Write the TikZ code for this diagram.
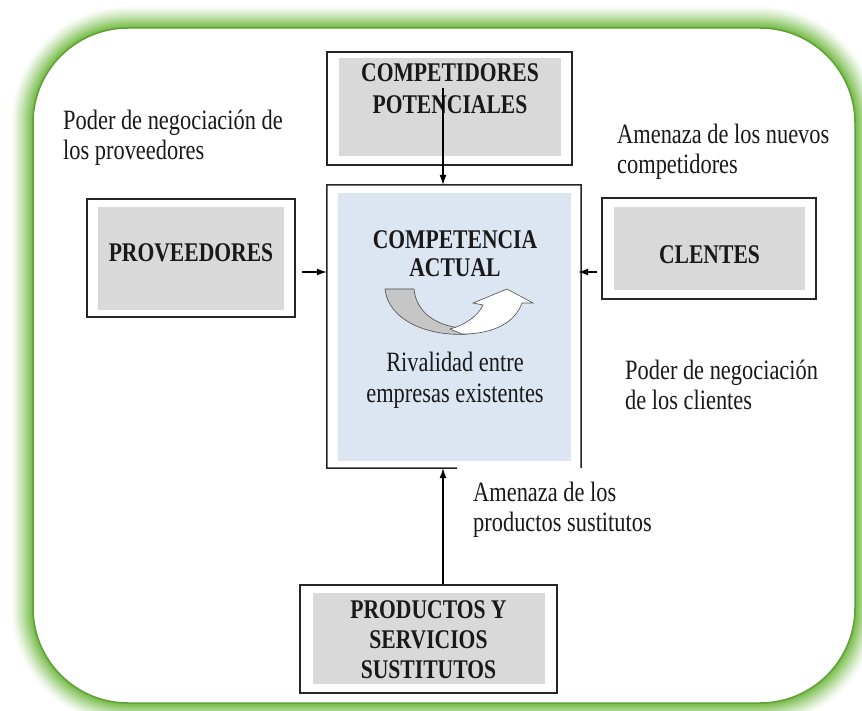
\documentclass[tikz,border=0pt]{standalone}
\usepackage{fontspec}
\setmainfont{Liberation Serif}[FakeStretch=0.8]
\usetikzlibrary{arrows.meta}
\definecolor{gline}{RGB}{95,160,55}
\definecolor{gglow}{RGB}{118,188,72}
\definecolor{boxgray}{RGB}{217,217,217}
\definecolor{cblue}{RGB}{220,230,242}
\begin{document}
\begin{tikzpicture}[x=1pt,y=-1pt,
  frame/.style={draw=black!85,line width=1.5pt,inner sep=0pt,fill=white},
  shadebox/.style={fill=boxgray,inner sep=0pt},
  title/.style={font=\fontsize{27}{29}\selectfont\bfseries,align=center,inner sep=0pt,text=black!90},
  note/.style={font=\fontsize{28}{30}\selectfont,align=left,inner sep=0pt,anchor=north west,text=black!90},
  conn/.style={-{Latex[length=10pt,width=7pt]},line width=1.1pt,black}]
\useasboundingbox (0,0) rectangle (862,711);
% green rounded frame with glow
\foreach \i in {22,21,...,1}{
  \pgfmathsetmacro\p{100*(1-(\i-1)/22)^1.3}
  \pgfmathsetmacro\r{95+\i}
  \fill[gglow!\p!white, rounded corners=\r pt] (33-\i,28-\i) rectangle (855+\i,703+\i);
}
\filldraw[fill=white, draw=gline, line width=1.5pt, rounded corners=95pt] (33,28) rectangle (855,703);

% top box
\node[frame, minimum width=245pt, minimum height=113pt] (potf) at (449.5,108.5) {};
\node[shadebox, minimum width=222pt, minimum height=98pt] (potg) at (450,107) {};
\node[title, font=\fontsize{27}{32}\selectfont\bfseries] (pott) at (450,89) {COMPETIDORES\\POTENCIALES};

% left box
\node[frame, minimum width=208pt, minimum height=118pt] (provf) at (191,258) {};
\node[shadebox, minimum width=186pt, minimum height=103pt] (provg) at (191,258.5) {};
\node[title] (provt) at (191,253) {PROVEEDORES};

% right box
\node[frame, minimum width=214pt, minimum height=101pt] (clif) at (709,248.5) {};
\node[shadebox, minimum width=191pt, minimum height=83pt] (clig) at (709.5,248.5) {};
\node[title] (clit) at (709.5,255) {CLENTES};

% bottom box
\node[frame, minimum width=257pt, minimum height=108pt] (prodf) at (428.5,639) {};
\node[shadebox, minimum width=232pt, minimum height=91pt] (prodg) at (429,638.5) {};
\node[title, font=\fontsize{27}{30}\selectfont\bfseries] (prodt) at (428.5,639.5) {PRODUCTOS Y\\SERVICIOS\\SUSTITUTOS};

% center box
\node[inner sep=0pt, minimum width=254pt, minimum height=283pt] (cbox) at (454,326.5) {};
\node[fill=cblue, inner sep=0pt, minimum width=233pt, minimum height=268pt] (cblu) at (454.5,327) {};
\draw[black!85, line width=1.5pt] (457,468) -- (cbox.south west) -- (cbox.north west) -- (cbox.north east) -- (cbox.south east);
\node[title, font=\fontsize{27}{28}\selectfont\bfseries] (cent) at (455,254) {COMPETENCIA\\ACTUAL};
\node[note, anchor=north, align=center, font=\fontsize{28}{31}\selectfont] (rival) at (455,352) {Rivalidad entre\\empresas existentes};

% curved arrow icon
\filldraw[fill=gray!45, draw=gray!60!black, line width=0.6pt]
  (385,289) -- (414,289) .. controls (416,312) and (436,326) .. (462,328)
  -- (468,334) .. controls (428,337) and (388,320) .. (385,289) -- cycle;
\filldraw[fill=white, draw=gray!60!black, line width=0.6pt]
  (450,329) .. controls (465,325) and (478,316) .. (483,305)
  -- (473,303) -- (507,289) -- (533,303) -- (522,303)
  .. controls (515,322) and (495,334) .. (462,334) -- cycle;

% notes
\node[note] (n1) at (63,110) {Poder de negociación de\\los proveedores};
\node[note] (n2) at (617,124) {Amenaza de los nuevos\\competidores};
\node[note] (n3) at (625,360) {Poder de negociación\\de los clientes};
\node[note] (n4) at (473,482) {Amenaza de los\\productos sustitutos};

% connectors
\coordinate (tA) at (443,88);
\draw[conn] (tA) -- (tA |- cbox.north);
\coordinate (lA) at (302,272);
\draw[conn] (lA) -- (lA -| cbox.west);
\coordinate (rA) at (597,272);
\draw[conn] (rA) -- ([xshift=-3pt]rA -| cbox.east);
\draw[conn] (tA |- prodf.north) -- (tA |- cbox.south);
\end{tikzpicture}
\end{document}
